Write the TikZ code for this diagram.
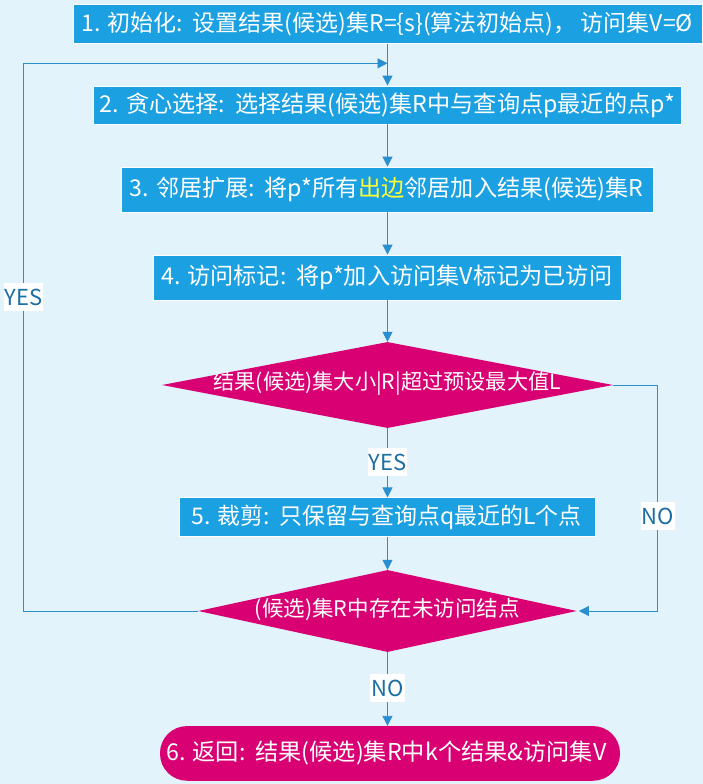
\documentclass[tikz,border=0pt]{standalone}
\usepackage{fontspec}
\usepackage{graphicx}
\setmainfont{Noto Sans CJK SC}
\usetikzlibrary{shapes.geometric,arrows.meta}
\definecolor{bg}{HTML}{E2F3FB}
\definecolor{boxblue}{HTML}{1BA1E2}
\definecolor{mag}{HTML}{D80073}
\definecolor{linec}{HTML}{2A8FCF}
\definecolor{lblc}{HTML}{1B6FA5}
\definecolor{hl}{HTML}{FFFF33}
\newcommand{\fitto}[2]{\resizebox{#1}{!}{#2}}
\newcommand{\cln}{:\hspace{9pt}}
\begin{document}
\begin{tikzpicture}[x=1pt,y=-1pt,
  txtfont/.style={font=\fontsize{21.5}{24}\selectfont},
  stepbox/.style={draw=white, line width=0.8pt, fill=boxblue, text=white, inner sep=0pt, txtfont},
  endbox/.style={fill=mag, text=white, inner sep=0pt, rounded corners=27pt, txtfont},
  dia/.style={diamond, fill=mag, inner sep=0pt},
  diatext/.style={text=white, inner sep=0pt, txtfont},
  lbl/.style={fill=white, text=lblc, inner sep=1pt, minimum height=28pt, font=\fontsize{22}{24}\selectfont},
  conn/.style={draw=linec, line width=0.8pt},
  arr/.style={conn, -{Triangle[width=10pt,length=10pt]}, color=linec}]
\fill[bg] (0,0) rectangle (703,784);
\useasboundingbox (0,0) rectangle (703,784);

\node[stepbox, minimum width=629pt, minimum height=38.6pt] (b1) at (387.5,24) {};
\node[text=white, inner sep=0pt, txtfont] (b1t) at (387.4,24) {\fitto{611pt}{1. 初始化\cln 设置结果(候选)集R=\{s\}(算法初始点)，\hspace{4pt}访问集V=Ø}};
\node[stepbox, minimum width=587.7pt, minimum height=38pt] (b2) at (387.5,105) {};
\node[text=white, inner sep=0pt, txtfont] (b2t) at (387.5,105) {\fitto{575pt}{2. 贪心选择\cln 选择结果(候选)集R中与查询点p最近的点p*}};
\node[stepbox, minimum width=532.3pt, minimum height=45pt] (b3) at (387.5,189.5) {};
\node[text=white, inner sep=0pt, txtfont] (b3t) at (386.5,189.5) {\fitto{513pt}{3. 邻居扩展\cln 将p*所有{\color{hl}出边}邻居加入结果(候选)集R}};
\node[stepbox, minimum width=468pt, minimum height=45pt] (b4) at (387.5,277.5) {};
\node[text=white, inner sep=0pt, txtfont] (b4t) at (386.7,277.5) {\fitto{451pt}{4. 访问标记\cln 将p*加入访问集V标记为已访问}};
\node[dia, minimum width=451pt, minimum height=86pt] (d1) at (387.5,385) {};
\node[diatext] (d1t) at (387.3,384) {\fitto{347.5pt}{结果(候选)集大小|R|超过预设最大值L}};
\node[stepbox, minimum width=416pt, minimum height=38.3pt] (b5) at (387.5,517) {};
\node[text=white, inner sep=0pt, txtfont] (b5t) at (386.8,517) {\fitto{390pt}{5. 裁剪\cln 只保留与查询点q最近的L个点}};
\node[dia, minimum width=378.4pt, minimum height=82pt] (d2) at (387.5,611) {};
\node[diatext] (d2t) at (387.3,610) {\fitto{265pt}{(候选)集R中存在未访问结点}};
\node[endbox, minimum width=460pt, minimum height=54.7pt] (f) at (390,753.4) {};
\node[text=white, inner sep=0pt, txtfont] (ft) at (386.5,753.4) {\fitto{440pt}{6. 返回\cln 结果(候选)集R中k个结果\&访问集V}};

\coordinate (lc) at (23.3,63.3);
\coordinate (j) at (387.5,63.3);
\coordinate (rc) at (657.3,385);

\draw[arr] (b1) -- (b2);
\draw[arr] (b2) -- (b3);
\draw[arr] (b3) -- (b4);
\draw[arr] (b4) -- (d1);
\draw[arr] (d1.south) -- (b5.north);
\draw[arr] (b5) -- (d2);
\draw[arr] (d2.south) -- (d2.south |- f.north);
\draw[arr] (d2.west) -| (lc) -- (j);
\draw[arr, shorten >=2pt] (d1.east) -- (rc) |- (d2.east);

\node[lbl] (yes1) at (23.5,297) {YES};
\node[lbl] (yes2) at (387.5,462) {YES};
\node[lbl] (no1) at (658,516) {NO};
\node[lbl] (no2) at (387.5,688) {NO};
\end{tikzpicture}
\end{document}
